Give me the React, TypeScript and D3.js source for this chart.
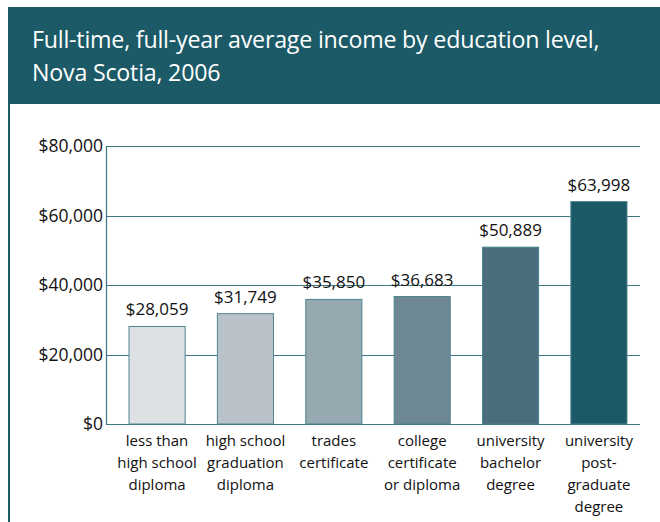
import React from "react";
import * as d3 from "d3";

const titleLines = ["Full-time, full-year average income by education level,", "Nova Scotia, 2006"];
const categories = [
  ["less than", "high school", "diploma"],
  ["high school", "graduation", "diploma"],
  ["trades", "certificate"],
  ["college", "certificate", "or diploma"],
  ["university", "bachelor", "degree"],
  ["university", "post-", "graduate", "degree"],
];
const values = [28059, 31749, 35850, 36683, 50889, 63998];
const barColors = ["#dde1e4", "#b9c2c9", "#97a9b0", "#6e8893", "#4a6d7b", "#1b5966"];
const yTicks = [0, 20000, 40000, 60000, 80000];

const W = 660, H = 522;
const plotLeft = 106, plotRight = 640, plotTop = 146, plotBottom = 424;
const teal = "#1c5a67";
const font = "'Open Sans', 'Noto Sans', sans-serif";

export default function App() {
  const ids = categories.map((_, i) => String(i));
  const x = d3.scaleBand<string>().domain(ids).range([104, 652]).paddingInner(0.365).paddingOuter(0.283);
  const y = d3.scaleLinear().domain([0, 80000]).range([plotBottom, plotTop]);
  const fmt = (v: number) => "$" + d3.format(",")(v);

  return (
    <svg width={W} height={H} style={{ position: "absolute", left: 0, top: 0 }} fontFamily={font}>
      <rect x={0} y={0} width={W} height={H} fill="#ffffff" />
      <rect x={8} y={7} width={W - 8} height={97} fill={teal} />
      <line x1={9} x2={9} y1={104} y2={H} stroke={teal} strokeWidth={2} />
      {titleLines.map((t, i) => (
        <text key={i} x={32} y={48 + i * 33} fill="#ffffff" fontSize={23.2} letterSpacing={-0.2}>{t}</text>
      ))}
      {yTicks.map((t) => (
        <line key={t} x1={plotLeft} x2={plotRight} y1={Math.round(y(t)) + 0.5} y2={Math.round(y(t)) + 0.5} stroke="#3b7883" strokeWidth={1.2} />
      ))}
      <line x1={plotLeft + 0.5} x2={plotLeft + 0.5} y1={plotTop} y2={plotBottom} stroke="#3b7883" strokeWidth={1.2} />
      {yTicks.map((t) => (
        <text key={t} x={103} y={y(t) + 6} textAnchor="end" fontSize={17.5} fill="#111">{fmt(t)}</text>
      ))}
      {values.map((v, i) => (
        <g key={i}>
          <rect x={x(ids[i])} y={y(v)} width={x.bandwidth()} height={plotBottom - y(v)} fill={barColors[i]} stroke="#4d8591" strokeWidth={1} />
          <text x={(x(ids[i]) as number) + x.bandwidth() / 2} y={y(v) - 11} textAnchor="middle" fontSize={17} fill="#111">{fmt(v)}</text>
          {categories[i].map((l, j) => (
            <text key={j} x={(x(ids[i]) as number) + x.bandwidth() / 2} y={446 + j * 22} textAnchor="middle" fontSize={15} fill="#111">{l}</text>
          ))}
        </g>
      ))}
    </svg>
  );
}
